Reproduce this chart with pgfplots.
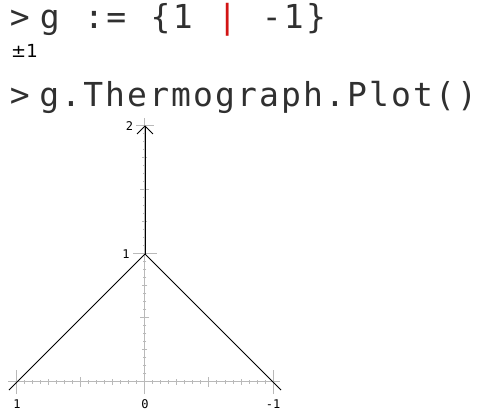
\documentclass[border=0pt]{standalone}
\usepackage{fontspec}
\usepackage{pgfplots}
\pgfplotsset{compat=1.18}
\newfontfamily\monofont{DejaVu Sans Mono}
\newfontfamily\sansfont{DejaVu Sans}
\definecolor{txt}{RGB}{48,48,48}
\definecolor{barred}{RGB}{210,20,20}
\definecolor{axgray}{RGB}{185,185,185}
\newcommand\ch[1]{\makebox[22.2bp][c]{#1}}
\newcommand\cht[1]{\makebox[22bp][c]{#1}}
\newcommand\spc{\makebox[22.2bp]{}}
\begin{document}
\begin{tikzpicture}
\path[use as bounding box] (0,0) rectangle (478bp,413bp);
% prompt lines
\node[anchor=base west, inner sep=0, text=txt, font=\monofont\fontsize{33bp}{33bp}\selectfont] at (8.4bp,384bp) {\ch{>}};
\node[anchor=base west, inner sep=0, text=txt, font=\monofont\fontsize{33bp}{33bp}\selectfont] at (38.4bp,384bp)
  {\ch{g}\spc\ch{:}\ch{=}\spc\ch{\{}\ch{1}\spc\ch{\textcolor{barred}{|}}\spc\ch{-}\ch{1}\ch{\}}};
\node[anchor=base west, inner sep=0, text=black, font=\sansfont\fontsize{18bp}{18bp}\selectfont] at (11bp,355bp) {±1};
\node[anchor=base west, inner sep=0, text=txt, font=\monofont\fontsize{33bp}{33bp}\selectfont] at (8.4bp,306.5bp) {\ch{>}};
\node[anchor=base west, inner sep=0, text=txt, font=\monofont\fontsize{33bp}{33bp}\selectfont] at (38bp,306.5bp)
  {\cht{g}\cht{.}\cht{T}\cht{h}\cht{e}\cht{r}\cht{m}\cht{o}\cht{g}\cht{r}\cht{a}\cht{p}\cht{h}\cht{.}\cht{P}\cht{l}\cht{o}\cht{t}\cht{(}\makebox[15bp][l]{\cht{)}}};
% secondary tick levels (halves and quarters)
\begin{axis}[
  at={(145bp,31bp)}, anchor=origin,
  x=128bp, y=128bp, x dir=reverse,
  xmin=-1.055, xmax=1.07, ymin=-0.07, ymax=2.065,
  axis lines=middle, axis line style={draw=none},
  clip=false, tick align=center,
  hide obscured x ticks=false, hide obscured y ticks=false,
  every tick/.style={axgray, line width=1bp},
  major tick length=9bp, minor tick length=5bp,
  xtick={-1,-0.5,...,1}, minor xtick={-1,-0.75,...,1},
  ytick={0,0.5,...,2}, minor ytick={0,0.25,...,2},
  tick label style={opacity=0},
]
\end{axis}
% main axis
\begin{axis}[
  at={(145bp,31bp)}, anchor=origin,
  x=128bp, y=128bp, x dir=reverse,
  xmin=-1.055, xmax=1.07, ymin=-0.07, ymax=2.065,
  axis lines=middle, axis line style={axgray, line width=1bp, -},
  clip=false, tick align=center,
  hide obscured x ticks=false, hide obscured y ticks=false,
  every tick/.style={axgray, line width=1bp},
  major tick length=24bp, minor tick length=3bp,
  xtick={-1,0,1}, xticklabels={-1,0,1},
  minor xtick={-1,-0.9375,...,1},
  ytick={1}, yticklabels={1},
  minor ytick={0,0.0625,...,2},
  extra y ticks={2}, extra y tick labels={2},
  extra y tick style={major tick length=17bp},
  tick label style={font=\monofont\fontsize{12bp}{12bp}\selectfont, text=black},
  xticklabel style={yshift=-2bp},
  yticklabel style={xshift=0bp},
]
\addplot[black, line width=0.8bp] coordinates {(1.0625,-0.0625) (0,1) (-1.0625,-0.0625)};
\addplot[black, line width=0.8bp] coordinates {(0,1) (0,2)};
\addplot[black, line width=0.8bp] coordinates {(0.0625,1.9375) (0,2) (-0.0625,1.9375)};
\end{axis}
\end{tikzpicture}
\end{document}
